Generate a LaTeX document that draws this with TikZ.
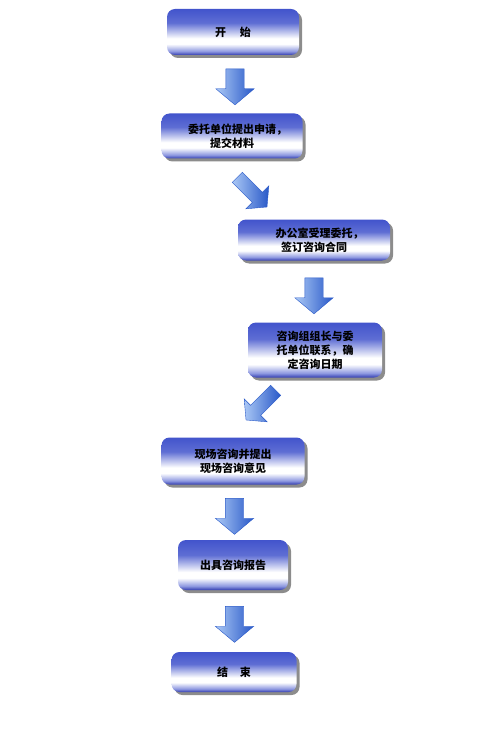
\documentclass[tikz,border=0pt]{standalone}
\usepackage{fontspec}
\setmainfont{Noto Sans CJK SC}
\usetikzlibrary{shapes.arrows, shadows}
\definecolor{boxblue}{RGB}{66,84,204}
\definecolor{boxdeep}{RGB}{50,60,176}
\definecolor{arrowlight}{RGB}{170,200,245}
\definecolor{arrowdeep}{RGB}{40,88,200}

\pgfdeclareverticalshading{stepshade}{100bp}{color(0bp)=(boxdeep); color(25bp)=(boxdeep);
  color(29bp)=(boxblue!60!white); color(37bp)=(white); color(43bp)=(white);
  color(60bp)=(boxblue!85!white); color(75bp)=(boxblue); color(100bp)=(boxblue)}

\tikzset{
  flowbox/.style={rounded corners=8pt, shading=stepshade, align=center,
    font=\bfseries\fontsize{11}{14}\selectfont, inner sep=2pt,
    drop shadow={shadow xshift=3pt, shadow yshift=-3pt, fill=black, opacity=0.45}},
  flowarrow/.style={single arrow, inner xsep=0pt, inner ysep=9pt, draw=arrowdeep, line width=0.4pt,
    left color=arrowlight, right color=arrowdeep,
    minimum height=36pt, minimum width=38pt,
    single arrow head extend=10pt, single arrow tip angle=100},
  slantarrow/.style={flowarrow, inner ysep=7pt, minimum height=42pt, minimum width=32pt,
    single arrow head extend=9pt}
}

\begin{document}
\begin{tikzpicture}[x=1pt, y=-1pt]
    \useasboundingbox (0,0) rectangle (500,735);

    % steps
    \node[flowbox, minimum width=132pt, minimum height=46pt] (start) at (233,32) {开\hspace{14pt}始};
    \node[flowbox, minimum width=141pt, minimum height=45pt] (apply) at (232,136) {委托单位提出申请\rlap{，}\\提交材料};
    \node[flowbox, minimum width=152pt, minimum height=41pt] (accept) at (314,240) {办公室受理委托\rlap{，}\\签订咨询合同};
    \node[flowbox, minimum width=134pt, minimum height=55pt] (contact) at (315,350) {咨询组组长与委\\托单位联系，确\\定咨询日期};
    \node[flowbox, minimum width=143pt, minimum height=47pt] (visit) at (233,461) {现场咨询并提出\\现场咨询意见};
    \node[flowbox, minimum width=110pt, minimum height=50pt] (report) at (233,565) {出具咨询报告};
    \node[flowbox, minimum width=125pt, minimum height=40pt] (finish) at (234,672) {结\hspace{12pt}束};

    % block arrows between the steps
    \node[flowarrow, rotate=-90] (a1) at (235,83) {};
    \node[slantarrow, rotate=-45] (a2) at (250,190) {};
    \node[flowarrow, rotate=-90] (a3) at (314,292) {};
    \node[slantarrow, rotate=-135] (a4) at (263,403) {};
    \node[flowarrow, rotate=-90] (a5) at (234.5,512.5) {};
    \node[flowarrow, rotate=-90] (a6) at (234.5,620.5) {};
\end{tikzpicture}
\end{document}
